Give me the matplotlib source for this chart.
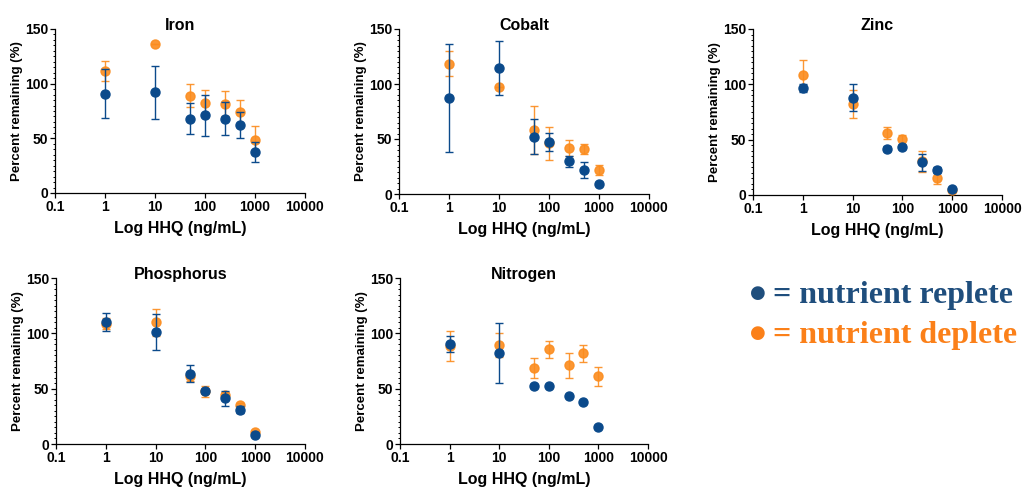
import numpy as np
import matplotlib
matplotlib.use('Agg')
import matplotlib.pyplot as plt
from matplotlib.ticker import FixedLocator, MultipleLocator, FixedFormatter

plt.rcParams['font.family'] = ['Liberation Sans', 'DejaVu Sans']
plt.rcParams['font.weight'] = 'bold'

conc = [1, 10, 50, 100, 250, 500, 1000]

# nutrient replete (blue) / deplete (orange): mean and error per panel
iron_rep = [91, 92, 68, 71, 68, 62.5, 37.5]
iron_rep_err = [22, 24.5, 14, 18.5, 15, 12, 9.5]
iron_dep = [111.5, 136, 89, 82, 81.5, 74, 48.5]
iron_dep_err = [9, 0, 10.5, 12, 11.5, 11, 12.8]

cobalt_rep = [87, 114.5, 52, 47, 30, 22, 9.5]
cobalt_rep_err = [49, 24.5, 16, 8.3, 5, 7.4, 1.5]
cobalt_dep = [118.5, 97, 58, 46, 42, 41, 21.5]
cobalt_dep_err = [11.3, 0, 22, 15, 7.3, 4.5, 4.5]

zinc_rep = [96.5, 88, 42, 43.5, 29.5, 22.5, 5]
zinc_rep_err = [3.5, 12.4, 2.5, 1.5, 8, 3, 1]
zinc_dep = [108, 82, 56, 50.5, 30.5, 15.5, 4.5]
zinc_dep_err = [14.2, 12.8, 5, 4, 9.3, 6, 0]

phos_rep = [110, 101, 63.5, 48, 41.5, 31, 8.5]
phos_rep_err = [8, 16.5, 7.5, 2, 6.8, 3, 1]
phos_dep = [108.5, 110, 61, 47.5, 44, 35.5, 10.5]
phos_dep_err = [5, 12, 4.5, 4.8, 3, 1.5, 1]

nitro_rep = [90.5, 82.5, 52.5, 52.5, 43, 38, 15.5]
nitro_rep_err = [7, 27, 2, 0, 0, 0, 0]
nitro_dep = [88.5, 89.5, 68.5, 85.5, 71, 82, 61]
nitro_dep_err = [13.5, 11, 9, 8, 11, 7.8, 9]

panels = [
    ('Iron', iron_rep, iron_rep_err, iron_dep, iron_dep_err, [55, 29, 305, 193]),
    ('Cobalt', cobalt_rep, cobalt_rep_err, cobalt_dep, cobalt_dep_err, [399, 29, 649, 194]),
    ('Zinc', zinc_rep, zinc_rep_err, zinc_dep, zinc_dep_err, [753, 29, 1002, 195]),
    ('Phosphorus', phos_rep, phos_rep_err, phos_dep, phos_dep_err, [56, 278, 305, 444]),
    ('Nitrogen', nitro_rep, nitro_rep_err, nitro_dep, nitro_dep_err, [400, 278, 648, 444]),
]

blue = '#0b4a8b'
orange = '#fb8c1e'
W, H = 1023, 491

fig = plt.figure(figsize=(W / 100, H / 100), dpi=100)

for name, rep, rep_err, dep, dep_err, box in panels:
    l, t, r, b = box
    ax = fig.add_axes([l / W, 1 - b / H, (r - l) / W, (b - t) / H])
    ax.set_xscale('log')
    ax.errorbar(conc, dep, yerr=dep_err, fmt='o', color=orange, ms=6.5, mec=orange,
                ecolor=orange, elinewidth=1, capsize=3, capthick=1,
                alpha=0.9, clip_on=False, zorder=3)
    ax.errorbar(conc, rep, yerr=rep_err, fmt='o', color=blue, ms=6.5, mec=blue,
                ecolor=blue, elinewidth=1, capsize=3, capthick=1,
                clip_on=False, zorder=4)
    ax.set_xlim(0.1, 10000)
    ax.set_ylim(0, 150)
    ax.xaxis.set_major_locator(FixedLocator([0.1, 1, 10, 100, 1000, 10000]))
    ax.xaxis.set_major_formatter(FixedFormatter(['0.1', '1', '10', '100', '1000', '10000']))
    ax.xaxis.set_minor_locator(FixedLocator([]))
    ax.yaxis.set_major_locator(MultipleLocator(50))
    ax.yaxis.set_minor_locator(MultipleLocator(5))
    for s in ['top', 'right']:
        ax.spines[s].set_visible(False)
    for s in ['left', 'bottom']:
        ax.spines[s].set_linewidth(0.9)
    ax.tick_params(which='major', direction='out', length=3.5, width=0.9,
                   labelsize=10, pad=1.5)
    ax.tick_params(which='minor', direction='out', length=1.8, width=0.7)
    for lab in ax.get_xticklabels() + ax.get_yticklabels():
        lab.set_fontweight('bold')
    ax.set_title(name, fontsize=11.5, fontweight='bold', y=1.0, pad=-1)
    ax.set_xlabel('Log HHQ (ng/mL)', fontsize=11.5, fontweight='bold', labelpad=5)
    ax.set_ylabel('Percent remaining (%)', fontsize=9.5, fontweight='bold', labelpad=1.5)

serif = ['Liberation Serif', 'DejaVu Serif']
for txt, col, base in [(' = nutrient replete', '#1f4e7d', 303),
                       (' = nutrient deplete', '#fb8019', 343)]:
    fig.text(758 / W, 1 - (base - 10) / H, '\u25cf', color=col, fontsize=13,
             family=['DejaVu Sans'], ha='center', va='center')
    fig.text(765 / W, 1 - base / H, txt, color=col, fontsize=23,
             fontweight='bold', family=serif, ha='left', va='baseline')

fig.savefig('out.png', dpi=100)
